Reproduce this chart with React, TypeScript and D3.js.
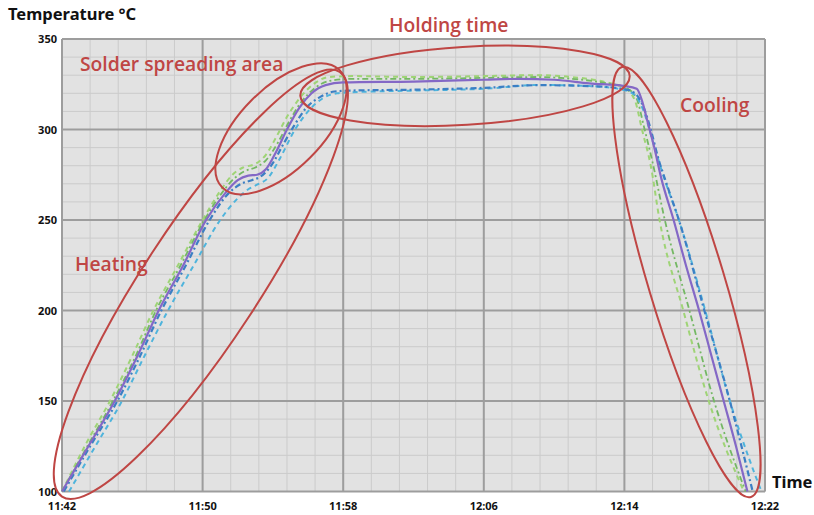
import React, { useEffect, useRef } from 'react';
import * as d3 from 'd3';

// minutes after 11:42 and temperatures (°C)
const purpleT = [0, 1.5, 3.0, 4.3, 5.5, 6.9, 8.2, 9.3, 10.0, 10.6, 11.1, 11.6, 12.2, 12.8, 13.5, 14.2, 15.0, 16.0, 20, 24, 26, 28, 30, 32.0, 32.7, 33.0, 33.3, 33.7, 34.1, 34.8, 35.5, 36.25, 36.95, 37.65, 38.35, 39.0];
const purpleV = [100, 125, 150, 175, 200, 225, 250, 265, 272, 274.5, 275, 278, 288, 300, 312, 320, 324.5, 326, 326.5, 327.5, 328, 327.5, 325.5, 324, 322.5, 316, 305, 290, 273, 250, 225, 200, 175, 150, 125, 100];

const lgreenT = [0, 1.4, 2.73, 4.0, 5.2, 6.6, 8.0, 9.0, 9.7, 10.3, 11.0, 11.6, 12.2, 12.8, 13.5, 14.3, 15.2, 16.5, 20, 24, 27, 29, 31, 32.0, 32.6, 33.0, 33.5, 34.0, 35.35, 36.8, 38.8];
const lgreenV = [100, 127, 150, 175, 200, 225, 250, 266, 275, 279, 281, 286, 296, 307, 317, 325, 329, 329.5, 329, 329.5, 330, 329, 326, 323, 316, 300, 280, 250, 200, 150, 100];

const dgreenT = [0, 1.5, 2.9, 4.2, 5.35, 6.75, 8.1, 9.1, 9.8, 10.4, 11.0, 11.6, 12.3, 12.9, 13.6, 14.4, 15.3, 16.5, 20, 24, 27, 29, 31, 32.1, 32.7, 33.1, 33.6, 34.3, 35.7, 37.1, 38.9];
const dgreenV = [100, 126, 150, 175, 200, 225, 250, 265, 273, 277, 279, 283, 293, 304, 315, 323, 327, 328, 328, 328.5, 329, 328, 325.5, 323, 317, 302, 282, 250, 200, 150, 100];

const cyanT = [0.4, 1.9, 3.41, 4.7, 6.03, 7.5, 9.0, 10.0, 10.6, 11.1, 11.7, 12.4, 13.26, 14.0, 14.8, 15.65, 16.4, 20, 24, 27.2, 30, 31.9, 32.6, 33.1, 33.6, 34.2, 35.1, 36.6, 38.0, 39.1, 39.8];
const cyanV = [100, 125, 150, 175, 200, 225, 250, 262, 267, 269.5, 273, 284, 300, 310, 317, 320, 320.5, 321.5, 322.5, 324.6, 324, 322, 319, 310, 294, 275, 250, 200, 150, 118, 100];

const blueT = [0.1, 1.6, 3.15, 4.45, 5.65, 7.05, 8.4, 9.5, 10.2, 10.8, 11.3, 11.9, 12.6, 13.2, 13.9, 14.7, 15.5, 16.4, 20, 24, 27.2, 30, 31.9, 32.6, 33.1, 33.5, 33.9, 34.4, 35.1, 36.55, 38.0, 39.3];
const blueV = [100, 125, 150, 175, 200, 225, 250, 265, 270, 272, 274, 280, 292, 302, 312, 318, 321, 321.5, 322, 323, 324.5, 324, 322.5, 320, 312, 300, 285, 270, 250, 200, 150, 100];

const yTicks = [100, 150, 200, 250, 300, 350];
const xTickMinutes = [0, 8, 16, 24, 32, 40];

// annotation ellipses: two tips in (minutes, °C) and a half width in px
const ellipseTips = [
  { name: 'heating', a: [0, 97.2], b: [15.8, 331.8], half: 58 },
  { name: 'solder', a: [9.12, 268], b: [15.8, 332.8], half: 41 },
  { name: 'holding', a: [13.56, 318.6], b: [32.3, 329.6], half: 39 },
  { name: 'cooling', a: [31.86, 334.5], b: [39.2, 97], half: 38 },
];

const start = new Date(2020, 0, 1, 11, 42);
const toDate = (m: number) => new Date(start.getTime() + m * 60000);

const W = 814;
const H = 515;
const margin = { left: 62, right: 49, top: 39, bottom: 23 };

const App: React.FC = () => {
  const svgRef = useRef<SVGSVGElement>(null);

  useEffect(() => {
    document.body.style.margin = '0';
    const svg = d3.select(svgRef.current);
    svg.selectAll('*').remove();

    const x = d3
      .scaleTime()
      .domain([toDate(0), toDate(40)])
      .range([margin.left, W - margin.right]);
    const y = d3
      .scaleLinear()
      .domain([100, 350])
      .range([H - margin.bottom - 0.5, margin.top]);

    const [x0, x1] = x.range();
    const [y0, y1] = y.range();

    // plot background
    svg
      .append('rect')
      .attr('x', x0)
      .attr('y', y1)
      .attr('width', x1 - x0)
      .attr('height', y0 - y1)
      .attr('fill', '#e2e2e2');

    // minor grid
    const minorX = d3.range(0, 40.01, 1.6);
    svg
      .append('g')
      .selectAll('line')
      .data(minorX)
      .join('line')
      .attr('x1', (d) => x(toDate(d)))
      .attr('x2', (d) => x(toDate(d)))
      .attr('y1', y1)
      .attr('y2', y0)
      .attr('stroke', '#cbcbcb')
      .attr('stroke-width', 1);
    const minorY = d3.range(100, 351, 10);
    svg
      .append('g')
      .selectAll('line')
      .data(minorY)
      .join('line')
      .attr('x1', x0)
      .attr('x2', x1)
      .attr('y1', (d) => y(d))
      .attr('y2', (d) => y(d))
      .attr('stroke', '#cbcbcb')
      .attr('stroke-width', 1);

    // major grid
    svg
      .append('g')
      .selectAll('line')
      .data(xTickMinutes)
      .join('line')
      .attr('x1', (d) => x(toDate(d)))
      .attr('x2', (d) => x(toDate(d)))
      .attr('y1', y1)
      .attr('y2', y0)
      .attr('stroke', '#9d9d9d')
      .attr('stroke-width', 2);
    svg
      .append('g')
      .selectAll('line')
      .data(yTicks)
      .join('line')
      .attr('x1', x0)
      .attr('x2', x1)
      .attr('y1', (d) => y(d))
      .attr('y2', (d) => y(d))
      .attr('stroke', '#9d9d9d')
      .attr('stroke-width', 2);

    // axis labels
    svg
      .append('g')
      .selectAll('text')
      .data(yTicks)
      .join('text')
      .attr('x', x0 - 5)
      .attr('y', (d) => y(d) + 4)
      .attr('text-anchor', 'end')
      .attr('font-family', 'Noto Sans, sans-serif')
      .attr('font-weight', 'bold')
      .attr('font-size', 11)
      .attr('fill', '#111')
      .text((d) => d);
    const fmt = d3.timeFormat('%H:%M');
    svg
      .append('g')
      .selectAll('text')
      .data(xTickMinutes)
      .join('text')
      .attr('x', (d) => x(toDate(d)))
      .attr('y', H - 5)
      .attr('text-anchor', 'middle')
      .attr('font-family', 'Noto Sans, sans-serif')
      .attr('font-weight', 'bold')
      .attr('font-size', 11)
      .attr('fill', '#111')
      .text((d) => fmt(toDate(d)));

    svg
      .append('text')
      .attr('x', 8)
      .attr('y', 20)
      .attr('font-family', 'Noto Sans, sans-serif')
      .attr('font-weight', 'bold')
      .attr('font-size', 16.5)
      .attr('fill', '#111')
      .text('Temperature °C');
    svg
      .append('text')
      .attr('x', 772)
      .attr('y', 488)
      .attr('font-family', 'Noto Sans, sans-serif')
      .attr('font-weight', 'bold')
      .attr('font-size', 16.5)
      .attr('fill', '#111')
      .text('Time');

    // series
    const series = [
      { t: lgreenT, v: lgreenV, color: '#9fd476', dash: '5 4', w: 2 },
      { t: dgreenT, v: dgreenV, color: '#74b864', dash: '6 3 2 3', w: 1.8 },
      { t: cyanT, v: cyanV, color: '#4fb4dc', dash: '5 4', w: 2 },
      { t: blueT, v: blueV, color: '#3c7fc4', dash: '6 3 2 3', w: 2.2 },
      { t: purpleT, v: purpleV, color: '#8468c6', dash: null, w: 2.2 },
    ];
    const lineGen = d3
      .line<[number, number]>()
      .x((d) => x(toDate(d[0])))
      .y((d) => y(d[1]))
      .curve(d3.curveMonotoneX);
    series.forEach((s) => {
      const pts = s.t.map((t, i) => [t, s.v[i]] as [number, number]);
      svg
        .append('path')
        .attr('d', lineGen(pts))
        .attr('fill', 'none')
        .attr('stroke', s.color)
        .attr('stroke-width', s.w)
        .attr('stroke-dasharray', s.dash)
        .attr('stroke-linejoin', 'round');
    });

    // red ellipses
    const red = '#bf4644';
    ellipseTips.forEach((e) => {
      const ax = x(toDate(e.a[0]));
      const ay = y(e.a[1]);
      const bx = x(toDate(e.b[0]));
      const by = y(e.b[1]);
      const cx = (ax + bx) / 2;
      const cy = (ay + by) / 2;
      const rx = Math.hypot(bx - ax, by - ay) / 2;
      const ang = (Math.atan2(by - ay, bx - ax) * 180) / Math.PI;
      svg
        .append('ellipse')
        .attr('cx', cx)
        .attr('cy', cy)
        .attr('rx', rx)
        .attr('ry', e.half)
        .attr('transform', `rotate(${ang} ${cx} ${cy})`)
        .attr('fill', 'none')
        .attr('stroke', red)
        .attr('stroke-width', 2);
    });

    const labels = [
      { text: 'Holding time', x: 389, y: 32 },
      { text: 'Solder spreading area', x: 80, y: 71 },
      { text: 'Cooling', x: 680, y: 112 },
      { text: 'Heating', x: 75, y: 271 },
    ];
    svg
      .append('g')
      .selectAll('text')
      .data(labels)
      .join('text')
      .attr('x', (d) => d.x)
      .attr('y', (d) => d.y)
      .attr('font-family', 'Open Sans, sans-serif')
      .attr('font-weight', 600)
      .attr('font-size', 19.3)
      .attr('fill', red)
      .text((d) => d.text);
  }, []);

  return <svg ref={svgRef} width={W} height={H} style={{ display: 'block', background: '#fff' }} />;
};

export default App;
